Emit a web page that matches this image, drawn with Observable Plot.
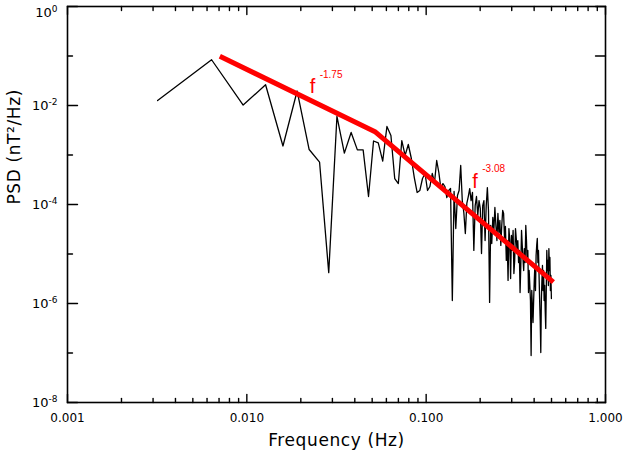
<!DOCTYPE html>
<html><head><meta charset="utf-8">
<script src="https://cdn.jsdelivr.net/npm/d3@7"></script>
<script src="https://cdn.jsdelivr.net/npm/@observablehq/plot@0.6"></script>
<style>
html,body{margin:0;padding:0;background:#fff;}
#chart{width:625px;height:456px;}
</style></head><body><div id="chart"></div>
<script>
// FFT bin spacing (Hz): point k sits at k * binWidth
const binWidth = 0.00318;
// PSD values (nT^2/Hz), one per frequency bin
const psd = [
  1.26e-2, 8.4e-2, 1.02e-2, 2.62e-2, 1.52e-3, 1.96e-2, 1.29e-3, 7.2e-4, 4.2e-6, 6.0e-3,
  1.09e-3, 2.85e-3, 1.27e-3, 1.27e-3, 1.45e-4, 1.92e-3, 1.75e-3, 7.5e-4, 3.77e-3, 2.48e-3,
  3.35e-4, 2.65e-4, 1.96e-3, 9.8e-4, 1.63e-3, 8.5e-4, 3.5e-4, 1.75e-4, 1.92e-4, 3.35e-4,
  4.23e-4, 1.92e-4, 2.31e-4, 4.23e-4, 2.78e-4, 7.74e-4, 4.43e-4, 2.10e-4, 2.65e-4, 2.31e-4,
  1.38e-4, 1.92e-4, 2.10e-4, 1.15e-6, 1.83e-4, 3.27e-5, 1.52e-4, 1.92e-4, 6.14e-4, 1.20e-4,
  6.89e-5, 2.59e-5, 1.05e-4, 1.45e-4, 2.10e-4, 1.20e-4, 1.75e-4, 1.18e-5, 9.5e-5, 1.45e-4,
  6.0e-5, 1.20e-4, 8.3e-5, 1.02e-5, 9.5e-5, 1.20e-4, 1.87e-5, 9.5e-5, 2.20e-4, 7.57e-5,
  1.05e-6, 3.77e-5, 1.63e-5, 5.46e-5, 2.99e-5, 8.7e-5, 3.77e-5, 1.87e-5, 6.58e-5, 2.72e-5,
  4.75e-5, 1.49e-5, 3.77e-5, 7.57e-5, 6.58e-5, 2.06e-5, 3.6e-5, 7.4e-6, 1.87e-5, 2.92e-6,
  3.27e-5, 1.87e-5, 3.2e-6, 2.37e-5, 1.18e-5, 2.99e-5, 4.04e-6, 7.4e-6, 3.27e-5, 2.06e-5,
  1.18e-5, 1.87e-5, 6.73e-6, 1.18e-5, 1.67e-6, 5.86e-6, 2.99e-5, 1.49e-5, 8.1e-6, 4.64e-6,
  1.29e-5, 6.73e-6, 3.77e-5, 1.87e-5, 6.73e-6, 1.18e-5, 1.67e-6, 4.64e-6, 2.31e-6, 1.15e-6,
  8.9e-8, 1.83e-6, 9.1e-7, 4.13e-7, 1.15e-6, 2.92e-6, 5.86e-6, 1.83e-6, 9.3e-6, 1.49e-5,
  2.06e-5, 6.73e-6, 1.18e-5, 3.68e-6, 1.15e-6, 4.54e-7, 1.02e-7, 1.15e-6, 2.92e-6, 5.86e-6,
  1.83e-6, 4.64e-6, 1.15e-6, 2.31e-6, 7.2e-7, 3.13e-7, 1.83e-6, 1.18e-5, 4.64e-6, 7.4e-6,
  2.31e-6, 1.29e-5, 4.64e-6, 8.5e-6, 1.83e-6, 3.68e-6, 1.26e-6
];
// broken power-law fit (red)
const fitFreq = [0.00707, 0.0522, 0.512];
const fitPsd = [0.099, 2.9e-3, 2.7e-6];
// fit annotations
const labelFreq = [0.0224, 0.1807];
const labelPsd = [0.0242, 2.96e-4];
const labelBase = ["f", "f"];
const labelExp = ["-1.75", "-3.08"];
// axes
const xTickValues = [0.001, 0.01, 0.1, 1];
const xTickLabels = ["0.001", "0.010", "0.100", "1.000"];
const xMinorValues = [0.002,0.003,0.004,0.005,0.006,0.007,0.008,0.009,
                      0.02,0.03,0.04,0.05,0.06,0.07,0.08,0.09,
                      0.2,0.3,0.4,0.5,0.6,0.7,0.8,0.9];
const yTickValues = [1, 1e-2, 1e-4, 1e-6, 1e-8];
const yTickLabels = ["10^0", "10^-2", "10^-4", "10^-6", "10^-8"];
const yMinorValues = [1e-1, 1e-3, 1e-5, 1e-7];
const xTitle = "Frequency (Hz)";
const yTitle = "PSD (nT\u00B2/Hz)";

const spectrum = psd.map((v, i) => ({freq: (i + 1) * binWidth, psd: v}));
const fit = fitFreq.map((f, i) => ({freq: f, psd: fitPsd[i]}));
const labels = labelFreq.map((f, i) => ({freq: f, psd: labelPsd[i], base: labelBase[i], exp: labelExp[i]}));

const tickShape = {draw(context, l) { context.moveTo(0, 0); context.lineTo(0, -l); }};
const tk = (data, ch, anchor, rotate, length) => Plot.vector(data, {
  [ch]: d => d, frameAnchor: anchor, rotate, length, anchor: "start",
  shape: tickShape, stroke: "black", strokeWidth: 1.4
});

const chart = Plot.plot({
  width: 625, height: 456,
  marginLeft: 67, marginRight: 20, marginTop: 6, marginBottom: 54,
  style: {fontFamily: "'DejaVu Sans', sans-serif", background: "#fff", overflow: "visible"},
  x: {type: "log", domain: [0.001, 1]},
  y: {type: "log", domain: [1e-8, 1]},
  marks: [
    Plot.line(spectrum, {x: "freq", y: "psd", stroke: "black", strokeWidth: 1.3}),
    Plot.line(fit, {x: "freq", y: "psd", stroke: "#ff0000", strokeWidth: 5, strokeLinecap: "butt"}),
    Plot.text(labels, {x: "freq", y: "psd", text: "base", fill: "#ff0000", fontSize: 20,
      fontFamily: "'Liberation Sans', sans-serif", textAnchor: "start", lineAnchor: "middle"}),
    Plot.text(labels, {x: "freq", y: "psd", text: "exp", fill: "#ff0000", fontSize: 10,
      fontFamily: "'Liberation Sans', sans-serif", textAnchor: "start", lineAnchor: "middle", dx: 10, dy: -12}),
    Plot.frame({stroke: "black", strokeWidth: 1.6}),
    tk(xTickValues, "x", "bottom", 0, 8),
    tk(xMinorValues, "x", "bottom", 0, 4),
    tk(xTickValues, "x", "top", 180, 8),
    tk(xMinorValues, "x", "top", 180, 4),
    tk(yTickValues, "y", "left", 90, 10),
    tk(yMinorValues, "y", "left", 90, 5),
    tk(yTickValues, "y", "right", -90, 10),
    tk(yMinorValues, "y", "right", -90, 10),
    Plot.axisX({ticks: xTickValues, tickSize: 0, tickPadding: 11, label: null, fontSize: 12,
      tickFormat: d => xTickLabels[xTickValues.indexOf(d)]}),
    Plot.axisY({ticks: yTickValues, tickSize: 0, tickPadding: 10, label: null, fontSize: 13,
      tickFormat: d => yTickLabels[yTickValues.indexOf(d)]}),
    Plot.text([xTitle], {frameAnchor: "bottom", dy: 38, lineAnchor: "middle", fontSize: 17,
      fill: "black", text: d => d}),
    Plot.text([yTitle], {frameAnchor: "left", dx: -53, rotate: -90, lineAnchor: "middle", fontSize: 17,
      fill: "black", text: d => d})
  ]
});

// superscript exponents on the y tick labels
const ns = "http://www.w3.org/2000/svg";
chart.querySelectorAll('g[aria-label="y-axis tick label"] text').forEach(t => {
  const s = t.textContent;
  if (!s.includes("^")) return;
  const [b, e] = s.split("^");
  t.textContent = "";
  const t1 = document.createElementNS(ns, "tspan"); t1.textContent = b; t.appendChild(t1);
  const t2 = document.createElementNS(ns, "tspan");
  t2.setAttribute("font-size", "9"); t2.setAttribute("dy", "-5"); t2.textContent = e;
  t.appendChild(t2);
  // the top label sits a little below its tick, as in the reference
  if (e === "0") {
    const g = document.createElementNS(ns, "g");
    g.setAttribute("transform", "translate(0,6)");
    t.parentNode.insertBefore(g, t);
    g.appendChild(t);
  }
});
// wider letter spacing for axis titles (IDL-like)
chart.querySelectorAll('text').forEach(t => {
  if (t.textContent === xTitle || t.textContent === yTitle) t.setAttribute("letter-spacing", "0.6");
});
document.getElementById("chart").appendChild(chart);
</script></body></html>
